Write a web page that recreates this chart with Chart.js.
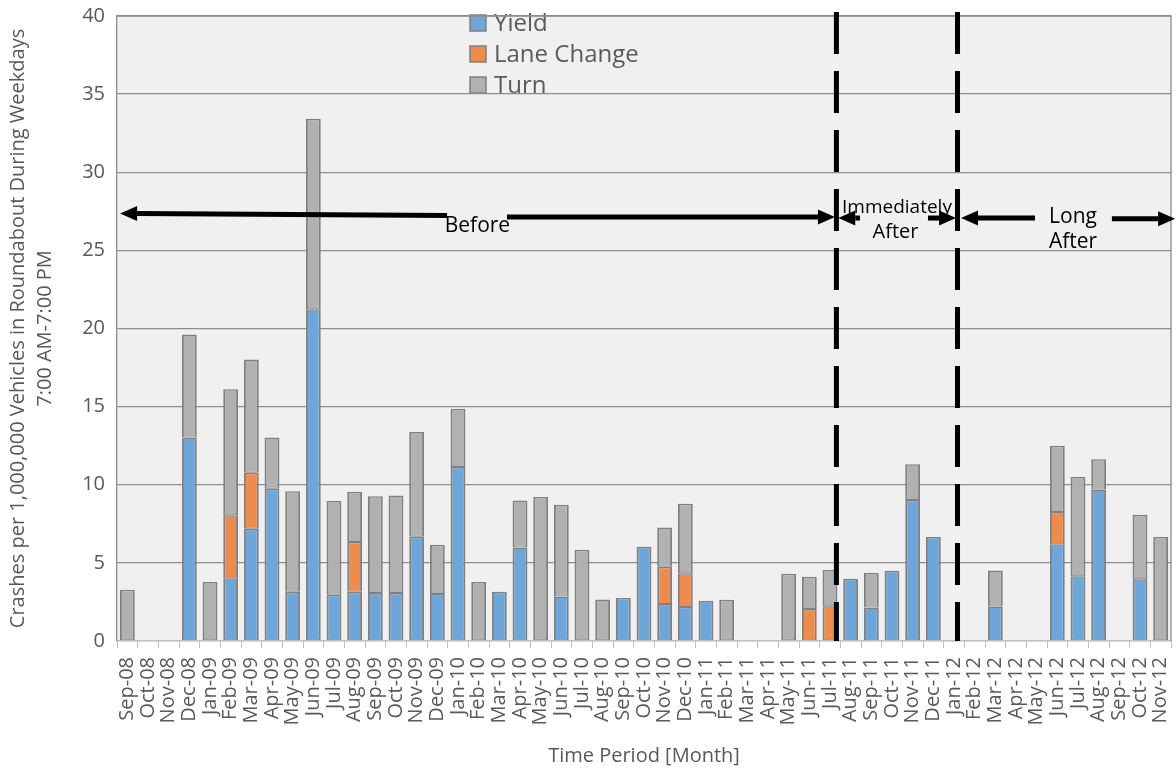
<!DOCTYPE html>
<html>
<head>
<meta charset="utf-8">
<script src="https://cdn.jsdelivr.net/npm/chart.js@4"></script>
<style>
html,body{margin:0;padding:0;background:#fff;}
#wrap{width:1176px;height:768px;position:relative;}
</style>
</head>
<body>
<div id="wrap"><canvas id="c" width="1176" height="768"></canvas></div>
<script>
const months = ['Sep-08','Oct-08','Nov-08','Dec-08','Jan-09','Feb-09','Mar-09','Apr-09','May-09','Jun-09','Jul-09','Aug-09',
  'Sep-09','Oct-09','Nov-09','Dec-09','Jan-10','Feb-10','Mar-10','Apr-10','May-10','Jun-10','Jul-10','Aug-10',
  'Sep-10','Oct-10','Nov-10','Dec-10','Jan-11','Feb-11','Mar-11','Apr-11','May-11','Jun-11','Jul-11','Aug-11',
  'Sep-11','Oct-11','Nov-11','Dec-11','Jan-12','Feb-12','Mar-12','Apr-12','May-12','Jun-12','Jul-12','Aug-12',
  'Sep-12','Oct-12','Nov-12'];

const yieldVals = [null,null,null,13.03,null,4.01,7.19,9.74,3.15,21.24,2.96,3.15,
  3.07,3.07,6.68,3.01,11.14,null,3.15,5.98,null,2.85,null,null,
  2.75,6.03,2.37,2.18,2.58,null,null,null,null,null,null,3.98,
  2.15,4.50,9.02,6.65,null,null,2.21,null,null,6.19,4.15,9.69,
  null,3.96,null];

const laneVals = [null,null,null,null,null,4.04,3.58,null,null,null,null,3.18,
  null,null,null,null,null,null,null,null,null,null,null,null,
  null,null,2.39,2.15,null,null,null,null,null,2.05,2.23,null,
  null,null,null,null,null,null,null,null,null,2.07,null,null,
  null,null,null];

const turnVals = [3.28,null,null,6.59,3.77,8.07,7.24,3.29,6.43,12.19,6.00,3.23,
  6.19,6.24,6.70,3.15,3.72,3.77,null,3.01,9.21,5.87,5.84,2.66,
  null,null,2.51,4.45,null,2.64,null,null,4.31,2.07,2.32,null,
  2.21,null,2.29,null,null,null,2.31,null,null,4.23,6.35,1.94,
  null,4.12,6.65];

const yTicksMax = 40;
const yTicksStep = 5;

const seriesNames = ['Yield','Lane Change','Turn'];
const seriesColors = ['#6FA6DA','#EE8C4D','#B1B1B1'];

const yTitle = ['Crashes per 1,000,000 Vehicles in Roundabout During Weekdays','7:00 AM-7:00 PM'];
const xTitle = 'Time Period [Month]';

// annotation definitions: positions in category-index / value units
const dividers = [34.31, 40.17];
const arrows = [
  {from:[15.47,27.23], to:[-0.35,27.36]},
  {from:[18.37,27.14], to:[34.24,27.14]},
  {from:[35.45,27.07], to:[34.40,27.07]},
  {from:[38.74,27.07], to:[40.10,27.07]},
  {from:[43.92,27.07], to:[40.34,27.07]},
  {from:[47.64,27.02], to:[50.70,27.02]}
];
const periodTexts = [
  {text:'Before', at:[16.94,26.18], size:21},
  {text:'Immediately', at:[37.24,27.39], size:19},
  {text:'After', at:[37.17,25.79], size:20},
  {text:'Long', at:[45.76,26.75], size:21},
  {text:'After', at:[45.76,25.15], size:21}
];

const FONT = "'Open Sans', sans-serif";

function xPix(chart, idx){
  const s = chart.scales.x;
  const p0 = s.getPixelForValue(0), p1 = s.getPixelForValue(1);
  return p0 + idx*(p1-p0);
}
function yPix(chart, v){ return chart.scales.y.getPixelForValue(v); }

function drawArrow(ctx, x1, y1, x2, y2){
  const ang = Math.atan2(y2-y1, x2-x1);
  const hl = 17, hw = 7.5;
  const bx = x2 - hl*Math.cos(ang), by = y2 - hl*Math.sin(ang);
  ctx.beginPath();
  ctx.moveTo(x1,y1); ctx.lineTo(bx,by);
  ctx.lineWidth = 5; ctx.strokeStyle = '#000'; ctx.lineCap='butt';
  ctx.stroke();
  ctx.beginPath();
  ctx.moveTo(x2,y2);
  ctx.lineTo(bx + hw*Math.sin(ang), by - hw*Math.cos(ang));
  ctx.lineTo(bx - hw*Math.sin(ang), by + hw*Math.cos(ang));
  ctx.closePath();
  ctx.fillStyle = '#000'; ctx.fill();
}

const bgPlugin = {
  id:'bgPlugin',
  beforeDraw(chart){
    const {ctx, chartArea:a} = chart;
    ctx.save();
    ctx.fillStyle = '#fff';
    ctx.fillRect(0,0,chart.width,chart.height);
    ctx.fillStyle = '#F0F0F0';
    ctx.fillRect(a.left, a.top, a.right-a.left, a.bottom-a.top);
    // legend (drawn under the gridlines, as in the reference)
    const lx = a.left + 353, ly0 = 23, dy = 31;
    chart.data.datasets.forEach((ds,i)=>{
      const cy = ly0 + i*dy;
      ctx.fillStyle = ds.backgroundColor;
      ctx.fillRect(lx, cy-8, 16, 16);
      ctx.strokeStyle = '#7F7F7F'; ctx.lineWidth = 1.5;
      ctx.strokeRect(lx, cy-8, 16, 16);
      ctx.fillStyle = '#595959';
      ctx.font = '24px ' + FONT;
      ctx.textBaseline = 'middle'; ctx.textAlign = 'left';
      ctx.fillText(ds.label, lx+24, cy+1);
    });
    ctx.restore();
  }
};

const annoPlugin = {
  id:'annoPlugin',
  afterDatasetsDraw(chart){
    const {ctx, chartArea:a} = chart;
    ctx.save();
    // plot border right/top
    ctx.strokeStyle = '#8C8C8C'; ctx.lineWidth = 1.3;
    ctx.beginPath();
    ctx.moveTo(a.left, a.top); ctx.lineTo(a.right, a.top); ctx.lineTo(a.right, a.bottom);
    ctx.stroke();
    // dashed dividers
    ctx.setLineDash([42,17]);
    ctx.lineWidth = 5; ctx.strokeStyle = '#000';
    dividers.forEach(d=>{
      const x = xPix(chart,d);
      ctx.beginPath();
      ctx.moveTo(x, a.top-4); ctx.lineTo(x, a.bottom);
      ctx.stroke();
    });
    ctx.setLineDash([]);
    arrows.forEach(ar=>{
      drawArrow(ctx, xPix(chart,ar.from[0]), yPix(chart,ar.from[1]), xPix(chart,ar.to[0]), yPix(chart,ar.to[1]));
    });
    ctx.fillStyle = '#000';
    ctx.textAlign = 'center'; ctx.textBaseline = 'alphabetic';
    periodTexts.forEach(t=>{
      ctx.font = t.size + 'px ' + FONT;
      ctx.fillText(t.text, xPix(chart,t.at[0]), yPix(chart,t.at[1]));
    });
    ctx.restore();
  }
};

new Chart(document.getElementById('c'), {
  type:'bar',
  data:{
    labels: months,
    datasets:[
      {label:seriesNames[0], data:yieldVals, backgroundColor:seriesColors[0]},
      {label:seriesNames[1], data:laneVals, backgroundColor:seriesColors[1]},
      {label:seriesNames[2], data:turnVals, backgroundColor:seriesColors[2]}
    ]
  },
  options:{
    responsive:false,
    animation:false,
    devicePixelRatio:1,
    layout:{padding:{left:0,right:5,top:16,bottom:0}},
    datasets:{bar:{categoryPercentage:1, barPercentage:0.72, borderColor:'#808080', borderWidth:{top:1.5,bottom:1,left:2,right:2}, borderSkipped:false}},
    plugins:{legend:{display:false}, tooltip:{enabled:false}},
    scales:{
      x:{
        stacked:true,
        afterFit(s){ s.height = 127; s.paddingLeft = 0; s.paddingRight = 0; },
        grid:{display:true, drawOnChartArea:false, drawTicks:true, tickLength:7, color:'#BFBFBF', offset:true},
        border:{color:'#BFBFBF', width:1.3},
        ticks:{autoSkip:false, maxRotation:90, minRotation:90, padding:9, color:'#595959', font:{family:FONT, size:20}},
        title:{display:true, text:xTitle, color:'#595959', font:{family:FONT, size:20}, padding:{top:0,bottom:0}}
      },
      y:{
        stacked:true,
        min:0, max:yTicksMax,
        afterFit(s){ s.width = 117; s.paddingTop = 0; s.paddingBottom = 0; },
        grid:{color:'#8C8C8C', lineWidth:1.3, drawTicks:false},
        border:{color:'#8C8C8C', width:1.3},
        ticks:{stepSize:yTicksStep, padding:12, color:'#595959', font:{family:FONT, size:20}},
        title:{display:true, text:yTitle, color:'#595959', font:{family:FONT, size:20, lineHeight:1.35}, padding:{top:5,bottom:0}}
      }
    }
  },
  plugins:[bgPlugin, annoPlugin]
});
</script>
</body>
</html>
